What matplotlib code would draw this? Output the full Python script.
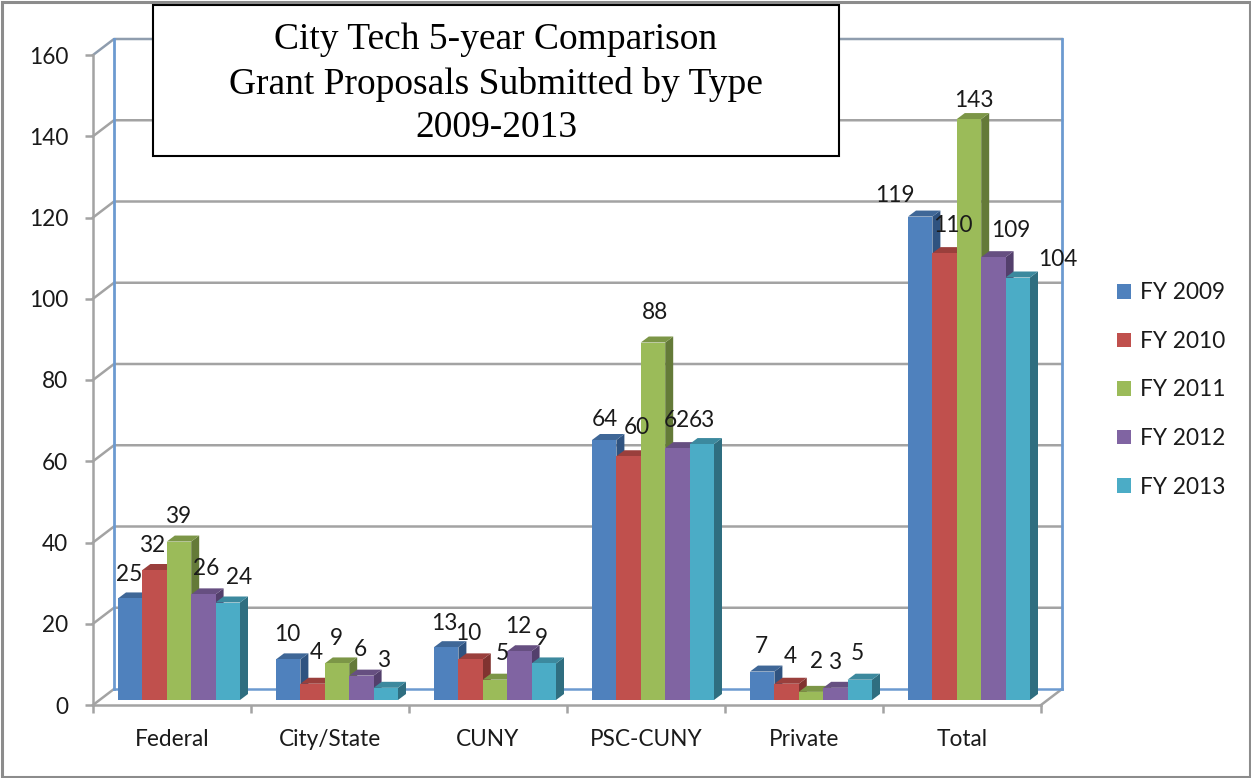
import matplotlib
matplotlib.use("Agg")
import matplotlib.pyplot as plt
from matplotlib.patches import Rectangle

categories = ["Federal", "City/State", "CUNY", "PSC-CUNY", "Private", "Total"]
series_names = ["FY 2009", "FY 2010", "FY 2011", "FY 2012", "FY 2013"]
fy2009 = [25, 10, 13, 64, 7, 119]
fy2010 = [32, 4, 10, 60, 4, 110]
fy2011 = [39, 9, 5, 88, 2, 143]
fy2012 = [26, 6, 12, 62, 3, 109]
fy2013 = [24, 3, 9, 63, 5, 104]
y_ticks = [0, 20, 40, 60, 80, 100, 120, 140, 160]
title_text = "City Tech 5-year Comparison\nGrant Proposals Submitted by Type\n2009-2013"

front_colors = ["#4F81BD", "#C0504D", "#9BBB59", "#8064A2", "#4BACC6"]
top_colors = ["#3F6797", "#9A3F3C", "#7C9647", "#664F81", "#3C899E"]
side_colors = ["#2F5380", "#803330", "#647A38", "#533F6C", "#2F6E80"]

# hand placed label nudges in px (dx, up from bar top), the original overlaps
label_dx = [
    [-1, -1, -2, 1, -1, -25],
    [-2, 4, -2, 8, 4, 8],
    [-1, -1, 7, 2, 6, 5],
    [3, -1, -1, -1, -1, 17],
    [11, -2, -2, 0, -2, 40],
]
label_up = [
    [24, 25, 24, 20, 25, 21],
    [25, 31, 26, 29, 27, 28],
    [25, 25, 26, 30, 30, 19],
    [26, 26, 25, 28, 25, 27],
    [25, 27, 25, 24, 26, 18],
]

W, H = 1251, 778
X0, X1, Y0, Y160 = 93, 1041, 705, 55
PX_X = (X1 - X0) / 6
PX_Y = (Y0 - Y160) / 160

GRAY = "#A3A3A3"
BLUE = "#6C9AD0"
TEXT_SIZE = 16.3
plt.rcParams["font.family"] = ["Lato", "DejaVu Sans"]

fig = plt.figure(figsize=(W / 100, H / 100), dpi=100)
ax = fig.add_axes([X0 / W, (H - Y0) / H, (X1 - X0) / W, (Y0 - Y160) / H])
ax.set_xlim(0, 6)
ax.set_ylim(0, 160)

depth_x = 21 / PX_X
depth_y = 16 / PX_Y
bar_w = 24.4 / PX_X
bar_dx = 8 / PX_X
bar_dy = 6 / PX_Y
base = 5 / PX_Y
start = 25 / PX_X

# back wall and floor
for t in y_ticks[1:-1]:
    ax.plot([0, depth_x, 6 + depth_x], [t, t + depth_y, t + depth_y], color=GRAY, lw=1.8, clip_on=False, zorder=1)
ax.plot([0, depth_x, 6 + depth_x], [160, 160 + depth_y, 160 + depth_y], color="#8F9DAE", lw=1.8, clip_on=False, zorder=1)
ax.plot([0, depth_x], [0, depth_y], color=GRAY, lw=1.8, clip_on=False, zorder=1)
ax.plot([6, 6 + depth_x], [0, depth_y], color=GRAY, lw=1.8, clip_on=False, zorder=1)
ax.plot([depth_x, 6 + depth_x], [depth_y, depth_y], color=BLUE, lw=1.8, clip_on=False, zorder=1.5)
ax.plot([depth_x, depth_x], [depth_y, 160 + depth_y], color=BLUE, lw=2.0, clip_on=False, zorder=1.5)
ax.plot([6 + depth_x, 6 + depth_x], [depth_y, 160 + depth_y], color=BLUE, lw=2.0, clip_on=False, zorder=1.5)

all_series = [fy2009, fy2010, fy2011, fy2012, fy2013]
handles = []
for j, values in enumerate(all_series):
    lefts = [i + start + j * bar_w for i in range(len(categories))]
    z = 3 + j
    for left, v in zip(lefts, values):
        right = left + bar_w
        top = base + v
        ax.fill([right, right + bar_dx, right + bar_dx, right],
                [base, base + bar_dy, top + bar_dy, top],
                color=side_colors[j], lw=0, clip_on=False, zorder=z)
        ax.fill([left, left + bar_dx, right + bar_dx, right],
                [top, top + bar_dy, top + bar_dy, top],
                color=top_colors[j], lw=0, clip_on=False, zorder=z)
    bars = ax.bar(lefts, values, width=bar_w, bottom=base, align="edge",
                  color=front_colors[j], lw=0, clip_on=False, zorder=z + 0.5,
                  label=series_names[j])
    handles.append(bars)
    for i, (left, v) in enumerate(zip(lefts, values)):
        ax.annotate(str(v), (left + bar_w / 2, base + v),
                    xytext=(label_dx[j][i], label_up[j][i]), textcoords="offset pixels",
                    ha="center", va="center", fontsize=TEXT_SIZE, color="#1A1A1A", zorder=20)

for s in ["top", "right"]:
    ax.spines[s].set_visible(False)
for s in ["left", "bottom"]:
    ax.spines[s].set_color(GRAY)
    ax.spines[s].set_linewidth(1.8)
    ax.spines[s].set_zorder(2)

ax.set_yticks(y_ticks)
ax.set_xticks(range(7))
ax.set_xticklabels([])
ax.set_xticks([i + 0.5 for i in range(6)], minor=True)
ax.set_xticklabels(categories, minor=True)
ax.tick_params(axis="y", length=6, width=1.8, color=GRAY, pad=12, labelsize=TEXT_SIZE, labelcolor="#1A1A1A")
ax.tick_params(axis="x", which="major", length=6, width=1.8, color=GRAY)
ax.tick_params(axis="x", which="minor", length=0, pad=17, labelsize=TEXT_SIZE, labelcolor="#1A1A1A")

fig.legend(handles=handles, loc="center left", bbox_to_anchor=(1106 / W, 1 - 390 / H),
           frameon=False, fontsize=TEXT_SIZE, handlelength=0.62, handleheight=0.62,
           handletextpad=0.36, labelspacing=1.22, borderpad=0, labelcolor="#1A1A1A")

# title box on top of the chart
fig.add_artist(Rectangle((153 / W, 1 - 156 / H), 686 / W, 151 / H, transform=fig.transFigure,
                         facecolor="white", edgecolor="black", lw=1.5, zorder=10))
fig.text(496 / W, 1 - 84 / H, title_text, ha="center", va="center", family="Liberation Serif",
         fontsize=27, linespacing=1.35, color="black", zorder=11)

# outer frame of the pasted picture
fig.add_artist(Rectangle((1.5 / W, 1.5 / H), (W - 3) / W, (H - 3) / H, transform=fig.transFigure,
                         facecolor="none", edgecolor="#8C8C8C", lw=2.2, zorder=12))

fig.savefig("out.png", dpi=100)
